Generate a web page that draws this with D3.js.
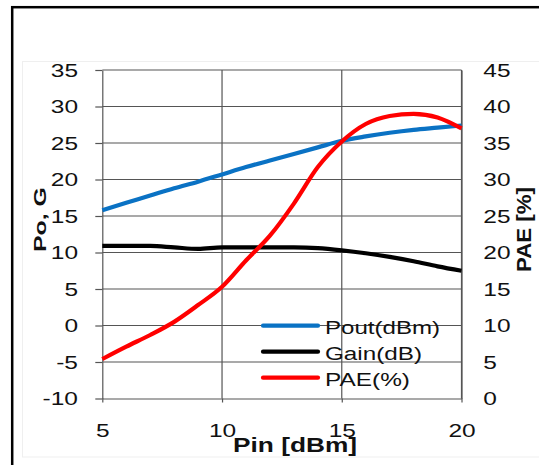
<!DOCTYPE html>
<html><head><meta charset="utf-8">
<script src="https://cdn.jsdelivr.net/npm/d3@7"></script>
<style>
html,body{margin:0;padding:0;background:#fff;}
svg{display:block;font-family:"Liberation Sans",Arial,sans-serif;}
</style></head>
<body>
<svg id="chart" width="539" height="465"></svg>
<script>
const pin   = [5,6,7,8,9,10,11,12,13,14,15,16,17,18,19,20];
const pout  = [15.8,16.8,17.8,18.8,19.7,20.7,21.7,22.6,23.5,24.4,25.3,25.9,26.4,26.8,27.1,27.4];
const gain  = [10.9,10.9,10.9,10.7,10.5,10.7,10.7,10.7,10.7,10.6,10.3,9.9,9.4,8.8,8.1,7.5];
const pae   = [5.4,7.1,8.7,10.5,12.8,15.3,18.9,22.3,26.7,31.7,35.2,37.6,38.7,39.0,38.5,37.0];
const xTicks = [5,10,15,20];
const yLeftTicks = [-10,-5,0,5,10,15,20,25,30,35];
const yRightTicks = [0,5,10,15,20,25,30,35,40,45];
const seriesNames = ["Pout(dBm)","Gain(dB)","PAE(%)"];
const seriesColors = ["#0a72c4","#000000","#ff0000"];

const svg = d3.select("#chart");
const x = d3.scaleLinear().domain([5,20]).range([102.3,461.5]);
const yL = d3.scaleLinear().domain([-10,35]).range([398.5,70]);
const yR = d3.scaleLinear().domain([0,45]).range([398.5,70]);
const gridColor = "#555";
const fmt = d => String(d);

// outer frame
svg.append("rect").attr("x",22.5).attr("y",61.5).attr("width",600).attr("height",395.5)
  .attr("fill","none").attr("stroke","#efefef").attr("stroke-width",1);
svg.append("rect").attr("x",12.2).attr("y",7.2).attr("width",700).attr("height",700)
  .attr("fill","none").attr("stroke","#000").attr("stroke-width",2.5);

// gridlines
svg.append("g").selectAll("line").data(yLeftTicks.filter(d=>d>-10)).join("line")
  .attr("x1",x(5)).attr("x2",x(20)).attr("y1",d=>yL(d)).attr("y2",d=>yL(d))
  .attr("stroke",gridColor).attr("stroke-width",1.2);
svg.append("g").selectAll("line").data(xTicks.filter(d=>d>5)).join("line")
  .attr("x1",d=>x(d)).attr("x2",d=>x(d)).attr("y1",yL(35)).attr("y2",yL(-10))
  .attr("stroke",gridColor).attr("stroke-width",1.2);

// axes
const gL = svg.append("g").attr("transform",`translate(${x(5)},0)`)
  .call(d3.axisLeft(yL).tickValues(yLeftTicks).tickFormat(fmt).tickSize(7).tickSizeOuter(0));
const gB = svg.append("g").attr("transform",`translate(0,${yL(-10)})`)
  .call(d3.axisBottom(x).tickValues(xTicks).tickFormat(fmt).tickSize(4).tickSizeOuter(0));
const gR = svg.append("g").attr("transform",`translate(${x(20)},0)`)
  .call(d3.axisRight(yR).tickValues(yRightTicks).tickFormat(fmt).tickSize(0).tickSizeOuter(0));
[gL,gB,gR].forEach(g=>{
  g.select(".domain").attr("stroke",gridColor).attr("stroke-width",1.2);
  g.selectAll(".tick line").attr("stroke",gridColor).attr("stroke-width",1.2);
  g.selectAll(".tick text").attr("fill","#111").attr("font-size",17.5)
    .attr("font-family","'Liberation Sans',Arial,sans-serif");
});
gL.selectAll(".tick text").attr("x",0).attr("dy","0.36em").attr("text-anchor","end")
  .attr("transform","translate(-24.3,0) scale(1.4,1)");
gR.selectAll(".tick text").attr("x",0).attr("dy","0.36em").attr("text-anchor","start")
  .attr("transform","translate(21.8,0) scale(1.4,1)");
gB.selectAll(".tick text").attr("y",0).attr("dy",0).attr("text-anchor","middle")
  .attr("transform","translate(0,38.5) scale(1.4,1)");

// series lines
const data = [pout,gain,pae];
const yScales = [yL,yL,yR];
data.forEach((vals,i)=>{
  const line = d3.line().x((d,j)=>x(pin[j])).y(d=>yScales[i](d)).curve(d3.curveMonotoneX);
  svg.append("path").datum(vals).attr("d",line).attr("fill","none")
    .attr("stroke",seriesColors[i]).attr("stroke-width",4.2)
    .attr("stroke-linejoin","round").attr("stroke-linecap","butt");
});

// legend
const legY = [325.7,351.7,377.7];
const legLen = [115,97,85];
seriesNames.forEach((n,i)=>{
  svg.append("line").attr("x1",263).attr("x2",318).attr("y1",legY[i]).attr("y2",legY[i])
    .attr("stroke",seriesColors[i]).attr("stroke-width",4.2).attr("stroke-linecap","round");
  svg.append("text").attr("x",325).attr("y",legY[i]+8).attr("font-size",18).attr("fill","#111")
    .attr("textLength",legLen[i]).attr("lengthAdjust","spacingAndGlyphs").text(n);
});

// axis titles
svg.append("text").attr("x",233).attr("y",452).attr("font-size",20).attr("font-weight","bold")
  .attr("fill","#111").attr("textLength",124).attr("lengthAdjust","spacingAndGlyphs").text("Pin [dBm]");
svg.append("text").attr("transform","translate(46,219.5) rotate(-90)").attr("text-anchor","middle")
  .attr("font-size",17).attr("font-weight","bold").attr("fill","#111")
  .attr("textLength",65).attr("lengthAdjust","spacingAndGlyphs").text("Po, G");
svg.append("text").attr("transform","translate(531,229.5) rotate(-90)").attr("text-anchor","middle")
  .attr("font-size",21).attr("font-weight","bold").attr("fill","#111")
  .attr("textLength",85).attr("lengthAdjust","spacingAndGlyphs").text("PAE [%]");
</script>
</body></html>
